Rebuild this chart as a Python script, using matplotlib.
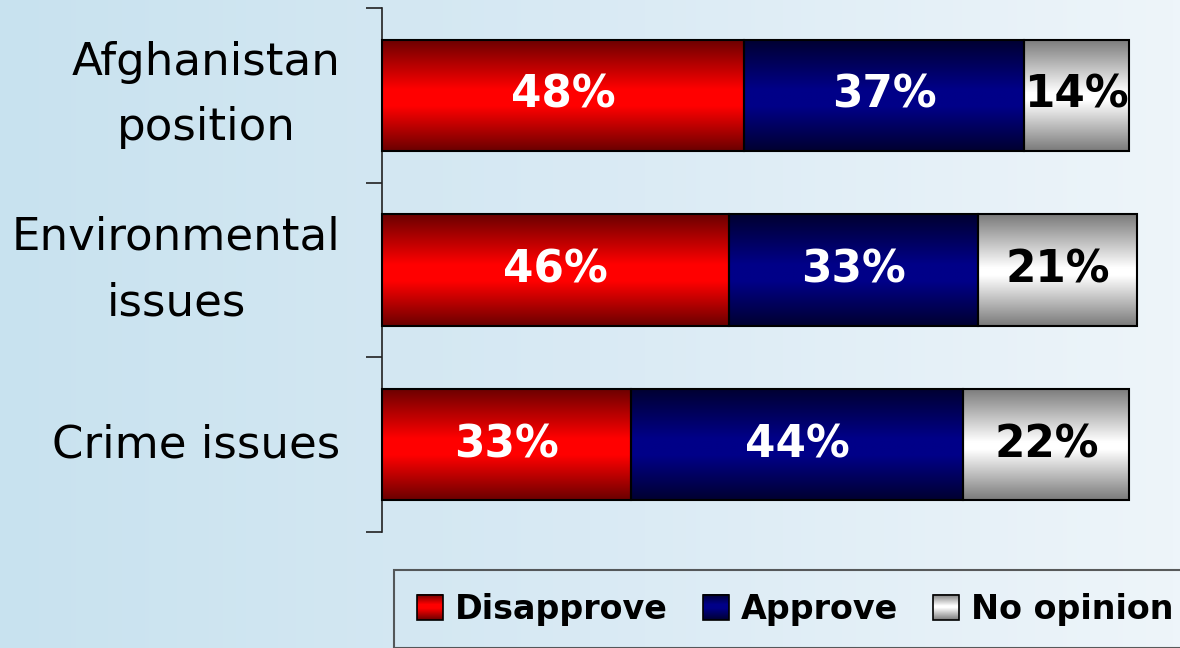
import numpy as np
import matplotlib
matplotlib.use("Agg")
import matplotlib.pyplot as plt
from matplotlib.colors import LinearSegmentedColormap
from matplotlib.patches import Rectangle
from matplotlib.legend_handler import HandlerBase
from matplotlib.image import BboxImage
from matplotlib.transforms import Bbox, TransformedBbox

# ---- data ----
categories = ["Afghanistan\nposition", "Environmental\nissues", "Crime issues"]
series_names = ["Disapprove", "Approve", "No opinion"]
disapprove = [48, 46, 33]
approve = [37, 33, 44]
no_opinion = [14, 21, 22]

plt.rcParams['font.family'] = ['DejaVu Sans']

# gradient colormaps (vertical: dark edges, bright middle)
cm_red = LinearSegmentedColormap.from_list(
    "r", [(0, "#6a0000"), (0.45, "#ff0000"), (0.6, "#ff0000"), (1, "#6a0000")])
cm_blue = LinearSegmentedColormap.from_list(
    "b", [(0, "#000030"), (0.45, "#000088"), (0.6, "#000088"), (1, "#000030")])
cm_gray = LinearSegmentedColormap.from_list(
    "g", [(0, "#7a7a7a"), (0.48, "#ffffff"), (0.55, "#ffffff"), (1, "#7a7a7a")])
cmaps = [cm_red, cm_blue, cm_gray]
text_colors = ["white", "white", "black"]
bg_cmap = LinearSegmentedColormap.from_list("bg", ["#c8e2ef", "#d9eaf4", "#eef5fa"])

W, H = 1180, 648
fig = plt.figure(figsize=(W / 100, H / 100), dpi=100)

# background gradient
bg = fig.add_axes([0, 0, 1, 1], zorder=-1)
bg.imshow(np.linspace(0, 1, 256).reshape(1, -1), cmap=bg_cmap, aspect='auto',
          extent=[0, 1, 0, 1], interpolation='bilinear')
bg.axis('off')

ax = fig.add_axes([382 / W, (H - 532) / H, 755 / W, (532 - 8) / H])
ax.patch.set_visible(False)

y = np.arange(len(categories))
grad = np.linspace(0, 1, 256).reshape(-1, 1)
series = [disapprove, approve, no_opinion]
left = np.zeros(len(categories))
bar_h = 0.636
for vals, cmap, tc in zip(series, cmaps, text_colors):
    vals = np.array(vals, dtype=float)
    bars = ax.barh(y, vals, left=left, height=bar_h, facecolor='none',
                   edgecolor='black', linewidth=1.5, zorder=3, clip_on=False)
    for b, v in zip(bars, vals):
        x0, y0, w, h = b.get_x(), b.get_y(), b.get_width(), b.get_height()
        im = ax.imshow(grad, cmap=cmap, extent=[x0, x0 + w, y0 + h, y0],
                       aspect='auto', interpolation='bilinear', zorder=2)
        im.set_clip_path(b)
        ax.text(x0 + w / 2, y0 + h / 2, f"{int(v)}%", ha='center', va='center',
                color=tc, fontsize=31.5, fontweight='bold', zorder=4)
    left += vals

ax.set_xlim(0, 100)
ax.set_ylim(len(categories) - 0.5, -0.5)
for s in ['top', 'right', 'bottom']:
    ax.spines[s].set_visible(False)
ax.spines['left'].set_linewidth(1.2)
ax.spines['left'].set_color('#222222')
ax.set_xticks([])
ax.set_yticks(y)
ax.set_yticklabels(categories, fontsize=32.5, linespacing=1.65)
for lbl in ax.get_yticklabels():
    lbl.set_multialignment('center')
    lbl.set_va('center')
ax.tick_params(axis='y', which='major', length=0, pad=30)
ax.set_yticks(np.arange(len(categories) + 1) - 0.5, minor=True)
ax.tick_params(axis='y', which='minor', length=11.5, width=1.2, color='#222222')


class GradHandler(HandlerBase):
    def __init__(self, cmap):
        super().__init__()
        self.cmap = cmap

    def create_artists(self, legend, orig_handle, xdescent, ydescent,
                       width, height, fontsize, trans):
        bb = Bbox.from_bounds(-xdescent, -ydescent, width, height)
        img = BboxImage(TransformedBbox(bb, trans), cmap=self.cmap,
                        interpolation='bilinear')
        img.set_data(grad[::-1])
        rect = Rectangle((-xdescent, -ydescent), width, height, fill=False,
                         edgecolor='black', linewidth=1.2, transform=trans)
        return [img, rect]


proxies = [Rectangle((0, 0), 1, 1) for _ in series_names]
hmap = {p: GradHandler(c) for p, c in zip(proxies, cmaps)}
leg = fig.legend(proxies, series_names, handler_map=hmap, loc='upper left',
                 bbox_to_anchor=(394 / W, 1 - 570 / H), bbox_transform=fig.transFigure,
                 ncol=3, frameon=True, fancybox=False, edgecolor='#333333',
                 facecolor='none', borderaxespad=0,
                 prop={'weight': 'bold', 'size': 24},
                 handlelength=0.78, handleheight=0.78, handletextpad=0.36,
                 columnspacing=1.05, borderpad=0.68)
leg.get_frame().set_linewidth(1.5)

fig.savefig("out.png", dpi=100)
